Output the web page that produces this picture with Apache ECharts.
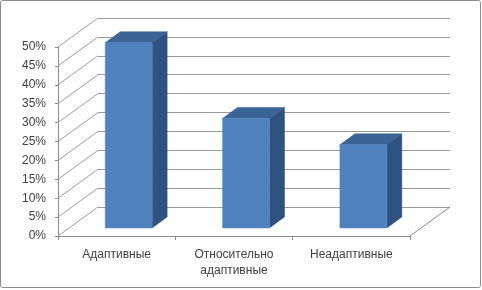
<!DOCTYPE html>
<html><head><meta charset="utf-8">
<script src="https://cdn.jsdelivr.net/npm/echarts@6/dist/echarts.min.js"></script>
<style>html,body{margin:0;padding:0;background:#fff}#c{width:482px;height:290px}</style>
</head><body><div id="c"></div>
<script>
var categories = ['Адаптивные', 'Относительно адаптивные', 'Неадаптивные'];
var values = [0.49, 0.29, 0.22];
var tickValues = [0, 0.05, 0.1, 0.15, 0.2, 0.25, 0.3, 0.35, 0.4, 0.45, 0.5];

var DX = 40, DY = -29;          // depth offset of back wall
var BOX = 12, BOY = -8;         // bar front position inside depth
var BDX = 15, BDY = -11;        // bar depth
var font = 'Liberation Sans, Arial, sans-serif';

var chart = echarts.init(document.getElementById('c'), null, {renderer: 'canvas'});
chart.setOption({
  backgroundColor: '#fff',
  animation: false,
  graphic: [{type: 'rect', shape: {x: 0.5, y: 0.5, width: 480, height: 287, r: 2},
    style: {fill: 'none', stroke: '#8c8c8c', lineWidth: 1}, z: 0}],
  grid: [
    {left: 58, top: 47, width: 352, height: 189},
    {left: 98, top: 18, width: 352, height: 189}
  ],
  xAxis: [
    {type: 'category', gridIndex: 0, data: categories,
     axisLine: {show: true, lineStyle: {color: '#8c8c8c'}},
     axisTick: {show: true, length: 4, lineStyle: {color: '#8c8c8c'}},
     axisLabel: {fontFamily: font, fontSize: 12, color: '#404040', margin: 11, lineHeight: 16,
       interval: 0, formatter: function (v) { return v.replace(' ', '\n'); }}},
    {type: 'category', gridIndex: 1, data: categories, show: false}
  ],
  yAxis: [
    {type: 'value', gridIndex: 0, min: 0, max: 0.5, interval: 0.05,
     axisLine: {show: true, lineStyle: {color: '#8c8c8c'}},
     axisTick: {show: true, length: 3, lineStyle: {color: '#8c8c8c'}},
     splitLine: {show: false},
     axisLabel: {fontFamily: font, fontSize: 12, color: '#404040', margin: 12,
       formatter: function (v) { return Math.round(v * 100) + '%'; }}},
    {type: 'value', gridIndex: 1, min: 0, max: 0.5, interval: 0.05,
     axisLine: {show: false}, axisTick: {show: false}, axisLabel: {show: false},
     splitLine: {show: true, lineStyle: {color: '#9a9a9a', width: 1}}}
  ],
  series: [
    {type: 'custom', xAxisIndex: 0, yAxisIndex: 0, z: 1, silent: true,
     data: tickValues.map(function (t) { return [0, t]; }),
     renderItem: function (params, api) {
       var cs = params.coordSys;
       var p = api.coord([0, api.value(1)]);
       var x = cs.x;
       return {type: 'line', shape: {x1: x, y1: p[1], x2: x + DX, y2: p[1] + DY},
         style: {stroke: '#9a9a9a', lineWidth: 1}};
     }},
    {type: 'custom', xAxisIndex: 0, yAxisIndex: 0, z: 1, silent: true,
     data: [[0, 0]],
     renderItem: function (params, api) {
       var cs = params.coordSys;
       var p = api.coord([0, 0]);
       var x = cs.x + cs.width;
       return {type: 'line', shape: {x1: x, y1: p[1], x2: x + DX, y2: p[1] + DY},
         style: {stroke: '#8c8c8c', lineWidth: 1}};
     }},
    {type: 'custom', xAxisIndex: 0, yAxisIndex: 0, z: 5,
     data: values.map(function (v, i) { return [i, v]; }),
     renderItem: function (params, api) {
       var i = api.value(0), v = api.value(1);
       var top = api.coord([i, v]);
       var base = api.coord([i, 0]);
       var bw = api.size([1, 0])[0] * 0.4;
       var x0 = top[0] - bw / 2 + BOX, x1 = x0 + bw;
       var yT = top[1] + BOY, yB = base[1] + BOY;
       return {type: 'group', children: [
         {type: 'polygon', shape: {points: [[x1, yT], [x1 + BDX, yT + BDY], [x1 + BDX, yB + BDY], [x1, yB]]},
          style: {fill: '#2f5380', stroke: '#2b4c76', lineWidth: 0.5}},
         {type: 'polygon', shape: {points: [[x0, yT], [x0 + BDX, yT + BDY], [x1 + BDX, yT + BDY], [x1, yT]]},
          style: {fill: '#3b6496', stroke: '#355b89', lineWidth: 0.5}},
         {type: 'rect', shape: {x: x0, y: yT, width: bw, height: yB - yT},
          style: {fill: '#4f81bd', stroke: '#5b8cc6', lineWidth: 0.5}}
       ]};
     }}
  ]
});
</script></body></html>
